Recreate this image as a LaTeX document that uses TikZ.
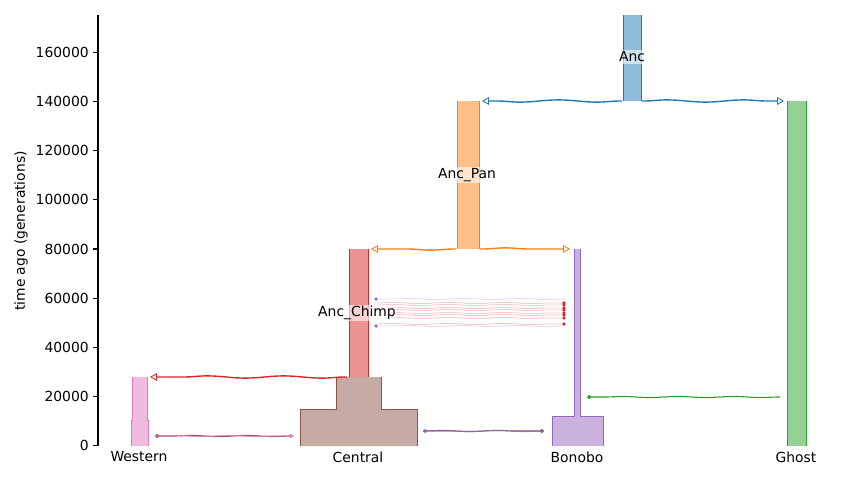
\documentclass[tikz,border=0pt]{standalone}
\usepackage{fontspec}
\setmainfont{DejaVu Sans}
\usetikzlibrary{arrows.meta,decorations.pathmorphing}
\definecolor{cblue}{HTML}{1F77B4}
\definecolor{corange}{HTML}{FF7F0E}
\definecolor{cgreen}{HTML}{2CA02C}
\definecolor{cred}{HTML}{D62728}
\definecolor{cpurple}{HTML}{9467BD}
\definecolor{cbrown}{HTML}{8C564B}
\definecolor{cpink}{HTML}{E377C2}
\tikzset{
  wave/.style={decorate,decoration={snake,amplitude=.8pt,segment length=55pt,
      pre length=1pt,post length=5pt}},
  ripple/.style={decorate,decoration={snake,amplitude=.4pt,segment length=40pt,
      pre length=1pt,post length=4pt}},
  ancestry/.style={draw=#1,line width=1pt,wave,
      -{Triangle[open,length=5pt,width=5.5pt,line width=.6pt]}},
  pulse/.style={draw=#1,line width=.8pt,ripple,-{Circle[length=3pt]}},
  migline/.style={draw=#1,line width=.8pt,ripple,-{Circle[length=3pt]}},
  demeedge/.style={draw=#1,line width=.65pt},
  tag/.style={fill=white,fill opacity=.6,text opacity=1,inner sep=1pt},
  tick/.style={anchor=east,inner sep=0pt}
}

\begin{document}
\begin{tikzpicture}[x=0.72pt,y=-0.72pt]
  \useasboundingbox (0,0) rectangle (853,480);
  % axis
  \coordinate (O) at (98,446);
  \coordinate (T) at (98,15);
  \draw[line width=.8pt] (T) -- (O);
  \foreach \k in {0,...,8} {
    \draw[line width=.8pt] (93,445.7-49.18*\k) -- (98,445.7-49.18*\k);
    \node[tick] at (89,445.7-49.18*\k) {\number\numexpr20000*\k\relax};
  }
  \node[rotate=90] (ylab) at (21,231) {time ago (generations)};

  % demes
  \fill[cblue!50] (623,15) rectangle (641,101);
  \draw[demeedge=cblue] (623,15) -- (623,101) (641,15) -- (641,101);
  \fill[corange!50] (457,101) rectangle (479,249);
  \draw[demeedge=corange] (457,101) -- (457,249) (479,101) -- (479,249);
  \fill[cgreen!50] (787,101) rectangle (806,446);
  \draw[demeedge=cgreen] (787,101) -- (787,446) (806,101) -- (806,446);
  \fill[cred!50] (349,249) rectangle (368,377);
  \draw[demeedge=cred] (349,249) -- (349,377) (368,249) -- (368,377);
  \fill[cpurple!50] (574,249) -- (580,249) -- (580,416) -- (603,416) -- (603,446)
    -- (552,446) -- (552,416) -- (574,416) -- cycle;
  \draw[demeedge=cpurple] (574,249) -- (574,416) -- (552,416) -- (552,446);
  \draw[demeedge=cpurple] (580,249) -- (580,416) -- (603,416) -- (603,446);
  \fill[cbrown!50] (336,377) -- (381,377) -- (381,409) -- (417,409) -- (417,446)
    -- (300,446) -- (300,409) -- (336,409) -- cycle;
  \draw[demeedge=cbrown] (336,377) -- (336,409) -- (300,409) -- (300,446);
  \draw[demeedge=cbrown] (381,377) -- (381,409) -- (417,409) -- (417,446);
  \fill[cpink!50] (132,377) -- (147,377) -- (147,420) -- (148,420) -- (148,446)
    -- (131,446) -- (131,420) -- (132,420) -- cycle;
  \draw[demeedge=cpink] (132,377) -- (132,420) -- (131,420) -- (131,446);
  \draw[demeedge=cpink] (147,377) -- (147,420) -- (148,420) -- (148,446);

  % ends of the connectors
  \coordinate (ancW) at (622,101);
  \coordinate (ancE) at (642,101);
  \coordinate (panE) at (482,101);
  \coordinate (ghostW) at (784,101);
  \coordinate (panSW) at (456,249);
  \coordinate (panSE) at (480,249);
  \coordinate (chimpNE) at (371,249);
  \coordinate (bonoboNW) at (570,249);
  \coordinate (chimpSW) at (347,377);
  \coordinate (westNE) at (150,377);
  \coordinate (ghostP) at (780,397);
  \coordinate (bonoboP) at (587,397);
  \coordinate (westM) at (155,436);
  \coordinate (centralW) at (293,436);
  \coordinate (centralE) at (423,431);
  \coordinate (bonoboM) at (544,431);
  \coordinate (chimpM) at (374,0);
  \coordinate (bonoboA) at (566,0);

  % ancestry
  \draw[ancestry=cblue] (ancW) -- (panE);
  \draw[ancestry=cblue] (ancE) -- (ghostW);
  \draw[ancestry=corange] (panSW) -- (chimpNE);
  \draw[ancestry=corange] (panSE) -- (bonoboNW);
  \draw[ancestry=cred] (chimpSW) -- (westNE);

  % pulse and migrations
  \draw[pulse=cgreen] (ghostP) -- (bonoboP);
  \draw[migline=cbrown] (centralW) -- (westM);
  \draw[migline=cpink,draw opacity=.8] (westM) -- (centralW);
  \draw[migline=cbrown] (centralE) -- (bonoboM);
  \draw[migline=cpurple,draw opacity=.8] (bonoboM) -- (centralE);
  \foreach \yy in {303,305,308,310,313,315,318,324}
    \draw[migline=cred,draw opacity=.25,line width=.6pt] (chimpM |- 0,\yy) -- (bonoboA |- 0,\yy);
  \foreach \yy in {299,326}
    \draw[migline=cpurple,draw opacity=.25,line width=.6pt] (bonoboA |- 0,\yy) -- (chimpM |- 0,\yy);

  % labels
  \node[tag] (ancLabel) at (632,57) {Anc};
  \node[tag] (panLabel) at (467,175) {Anc\_Pan};
  \node[tag] (chimpLabel) at (357,313) {Anc\_Chimp};
  \node (western) at (139,457) {Western};
  \node (central) at (358,457) {Central};
  \node (bonobo) at (577,457) {Bonobo};
  \node (ghost) at (796,457) {Ghost};
\end{tikzpicture}
\end{document}
